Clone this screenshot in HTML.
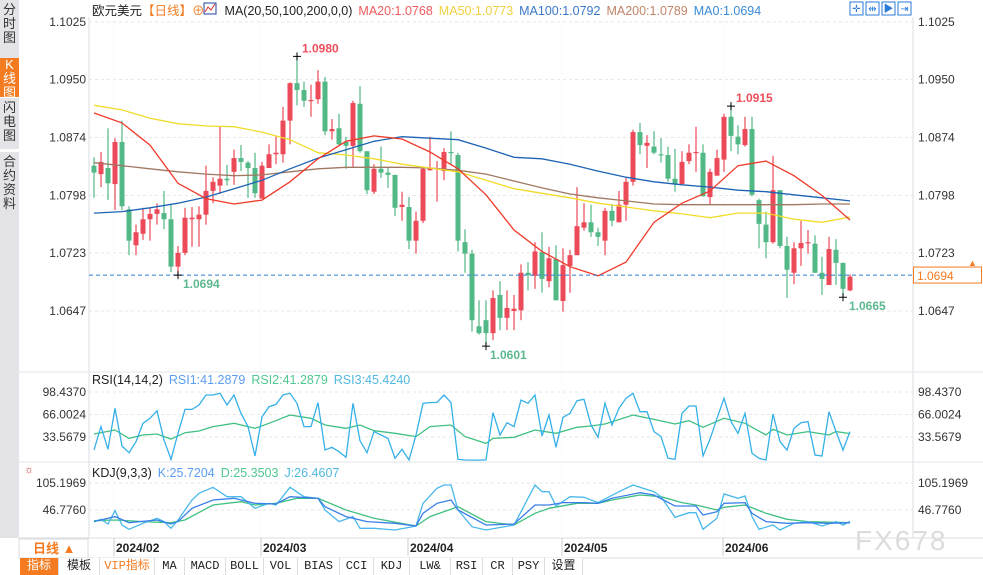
<!DOCTYPE html>
<html><head><meta charset="utf-8">
<style>
html,body{margin:0;padding:0;background:#fff;width:983px;height:575px;overflow:hidden;font-family:"Liberation Sans","Noto Sans CJK SC",sans-serif}
#wrap{position:relative;width:983px;height:575px}
.side{position:absolute;left:0;width:19px;background:#e4e4e8;color:#333;font-size:13px;line-height:14px;text-align:center;border-bottom:1px solid #fff}
.tabs{position:absolute;left:20px;top:558px;height:17px;display:flex;font-family:"Liberation Mono","Noto Sans CJK SC",monospace;font-size:12px}
.tabs div{border-right:1px solid #ddd;line-height:17px;color:#222;background:#fff;text-align:center;box-sizing:border-box;white-space:nowrap}
</style></head><body>
<div id="wrap">
<div class="side" style="top:0;height:55px;padding-top:3px">分<br>时<br>图</div>
<div class="side" style="top:58px;height:39px;background:#f47b20;color:#fff">K<br>线<br>图</div>
<div class="side" style="top:98px;height:48px;padding-top:3px">闪<br>电<br>图</div>
<div class="side" style="top:152px;height:60px;padding-top:3px">合<br>约<br>资<br>料</div>
<div class="side" style="top:215px;height:323px;border:none"></div>
<svg id="chart" width="983" height="575" style="position:absolute;left:0;top:0" xmlns="http://www.w3.org/2000/svg"></svg>
<div class="tabs">
<div style="width:39px;background:#f47b20;color:#fff">指标</div>
<div style="width:41px">模板</div>
<div style="width:55px;color:#f47b20">VIP指标</div>
<div style="width:30px">MA</div>
<div style="width:41px">MACD</div>
<div style="width:38px">BOLL</div>
<div style="width:34px">VOL</div>
<div style="width:42px">BIAS</div>
<div style="width:34px">CCI</div>
<div style="width:36px">KDJ</div>
<div style="width:41px">LW&amp;</div>
<div style="width:32px">RSI</div>
<div style="width:30px">CR</div>
<div style="width:32px">PSY</div>
<div style="width:38px">设置</div>
</div>
</div>
<script>
// price data, values = price x 10000
const openPips=[10837,10826,10834,10813,10868,10780,10733,10748,10767,10774,10775,10767,10705,10723,10767,10767,10773,10804,10811,10820,10829,10847,10841,10834,10794,10834,10852,10852,10896,10945,10936,10922,10924,10947,10882,10886,10868,10863,10918,10856,10803,10833,10828,10825,10783,10783,10739,10765,10831,10833,10830,10855,10851,10737,10722,10627,10635,10618,10668,10638,10647,10648,10697,10693,10724,10686,10715,10660,10706,10720,10756,10763,10750,10739,10778,10763,10786,10816,10881,10863,10862,10852,10851,10820,10813,10843,10854,10854,10796,10824,10845,10901,10875,10864,10885,10792,10760,10737,10805,10732,10697,10729,10736,10735,10697,10681,10727,10710,10674];
const highPips=[10848,10855,10886,10873,10896,10784,10760,10782,10782,10788,10804,10786,10732,10782,10783,10784,10837,10822,10888,10838,10858,10864,10843,10854,10842,10865,10875,10914,10946,10980,10947,10943,10962,10953,10898,10905,10875,10922,10941,10856,10839,10862,10834,10825,10803,10796,10777,10834,10875,10843,10860,10882,10854,10754,10727,10661,10661,10674,10686,10674,10668,10708,10711,10737,10750,10731,10733,10729,10727,10809,10788,10786,10756,10782,10787,10804,10822,10884,10893,10877,10882,10873,10862,10859,10856,10865,10888,10865,10833,10858,10905,10915,10890,10901,10901,10794,10777,10850,10805,10744,10737,10765,10753,10746,10718,10744,10741,10710,10695];
const lowPips=[10795,10809,10792,10779,10779,10720,10720,10740,10739,10760,10754,10698,10694,10720,10731,10731,10760,10788,10800,10811,10812,10830,10795,10795,10794,10834,10839,10841,10865,10916,10914,10901,10918,10877,10871,10864,10833,10834,10854,10800,10800,10821,10808,10771,10765,10728,10722,10762,10831,10790,10818,10838,10725,10697,10620,10616,10601,10609,10622,10622,10622,10635,10674,10676,10671,10678,10661,10646,10671,10720,10752,10744,10732,10720,10758,10763,10765,10811,10852,10834,10852,10841,10816,10803,10812,10839,10829,10797,10786,10824,10829,10856,10852,10862,10797,10729,10716,10735,10729,10664,10682,10706,10722,10697,10668,10681,10681,10665,10673];
const closePips=[10828,10842,10814,10868,10784,10739,10750,10767,10774,10780,10767,10705,10723,10769,10769,10773,10804,10816,10820,10818,10847,10842,10834,10801,10837,10852,10854,10896,10945,10936,10922,10923,10947,10882,10885,10865,10863,10919,10856,10805,10833,10828,10825,10782,10786,10739,10765,10833,10834,10834,10855,10854,10739,10722,10635,10618,10618,10664,10638,10651,10650,10697,10694,10725,10689,10716,10661,10707,10720,10758,10763,10750,10744,10778,10765,10786,10816,10881,10864,10867,10854,10851,10820,10813,10842,10854,10855,10797,10829,10847,10901,10876,10865,10885,10799,10761,10737,10805,10732,10701,10729,10736,10737,10697,10689,10728,10710,10676,10692];
// moving averages sampled every 4th bar
const maIdx=[0,4,8,12,16,20,24,28,32,36,40,44,48,52,56,60,64,68,72,76,80,84,88,92,96,100,104,108];
const ma20=[10906,10893,10864,10814,10794,10787,10792,10816,10846,10869,10876,10872,10855,10833,10799,10753,10725,10705,10693,10711,10763,10788,10804,10837,10843,10824,10798,10766];
const ma50=[10916,10910,10899,10892,10889,10888,10881,10871,10854,10851,10846,10839,10834,10829,10818,10807,10801,10795,10788,10783,10778,10774,10769,10775,10775,10767,10763,10770];
const ma100=[10775,10777,10782,10788,10796,10807,10818,10833,10847,10858,10869,10875,10873,10871,10860,10848,10846,10839,10830,10822,10816,10812,10809,10805,10803,10799,10795,10791];
const ma200=[10841,10837,10833,10829,10826,10824,10825,10829,10833,10835,10835,10835,10834,10831,10826,10817,10808,10800,10795,10791,10787,10786,10786,10786,10786,10786,10787,10787];
const rsi1=[14.8,48.5,15.8,74.9,20.6,11.0,26.8,53.3,60.5,71.5,29.2,1.4,38.9,73.4,73.4,79.7,94.1,94.1,96.5,79.7,94.1,67.7,48.5,6.2,62.9,77.3,80.6,94.1,96.5,82.1,48.5,48.5,83.1,14.8,18.7,12.4,4.3,82.1,28.3,11.0,41.3,36.5,31.6,2.8,15.8,0.4,36.5,82.1,83.1,83.5,94.1,83.1,1.4,0.4,0.2,0.2,0.5,68.6,36.5,54.2,48.5,86.9,82.1,94.1,35.0,65.3,18.7,61.9,67.7,85.9,87.9,50.9,33.1,82.1,50.9,74.9,89.3,96.5,70.1,70.1,41.3,34.1,2.8,1.4,67.7,78.3,78.3,6.2,30.2,60.5,89.3,55.7,38.9,67.7,10.0,2.8,0.4,66.7,26.8,14.8,46.1,54.2,55.7,7.6,6.2,70.1,41.3,14.8,41.3];
const rsi3Idx=[0,3,5,7,9,11,13,15,17,20,23,25,28,31,33,36,38,40,43,46,48,51,53,56,57,60,63,66,69,71,73,77,80,83,85,87,90,93,96,97,99,102,105,106,108];
const rsi3=[37.9,43.6,31.6,36.5,37.9,30.7,39.8,42.2,48.5,53.3,46.1,53.3,65.3,60.5,50.9,46.1,50.9,42.7,38.9,34.1,48.5,50.9,34.1,24.4,31.6,33.1,43.6,38.9,47.5,49.4,52.3,65.3,59.0,52.3,57.1,47.5,60.5,53.3,36.5,44.6,36.5,41.3,36.5,41.3,38.5];
const kIdx=[0,3,5,9,11,12,14,17,20,23,26,28,32,33,36,39,43,46,47,49,51,52,56,60,63,65,67,70,72,74,78,80,83,86,87,89,90,93,94,96,99,102,105,108];
const kVals=[21.6,32.4,19.4,25.2,16.5,21.6,50.4,68.4,72.0,61.2,59.8,75.6,72.0,54.0,32.4,21.6,18.0,12.2,39.6,61.2,68.4,46.8,14.4,16.5,57.6,57.6,62.7,62.7,61.2,72.0,84.3,79.3,55.4,55.4,36.0,43.2,61.2,62.7,39.6,21.6,18.0,19.4,18.0,19.4];
const dIdx=[0,3,7,11,13,17,21,23,26,29,32,36,40,46,48,52,56,60,63,65,69,72,74,78,81,84,86,89,90,93,96,99,102,108];
const dVals=[23.7,25.2,21.6,19.4,25.2,57.6,64.8,57.6,61.2,72.0,72.0,46.8,28.8,12.2,32.4,54.0,21.6,14.4,39.6,50.4,61.2,61.2,68.4,79.3,75.6,62.7,57.6,46.8,52.6,57.6,39.6,26.6,21.6,19.4];
const jIdx=[0,1,2,3,4,5,7,9,10,11,12,14,15,17,19,21,23,25,26,28,30,32,33,35,37,38,40,43,46,47,49,50,51,52,54,56,60,63,64,65,66,68,70,72,75,77,80,81,83,85,86,87,89,90,92,93,94,95,97,98,100,102,104,106,107,108];
const jVals=[21.6,26.6,16.5,45.4,14.4,5.0,18.0,28.8,21.6,7.1,25.2,68.4,82.9,95.8,75.6,75.6,50.4,61.2,57.6,95.8,75.6,72.0,46.8,21.6,32.4,7.1,7.1,3.5,12.2,61.2,93.7,100.9,100.9,46.8,10.7,3.5,14.4,100.9,86.4,86.4,55.4,75.6,74.2,62.7,86.4,100.9,86.4,75.6,30.9,41.0,41.0,5.0,28.8,81.4,72.0,77.1,32.4,5.0,14.4,3.5,18.0,21.6,12.2,21.6,14.4,22.0];
const priceTicks=["1.1025","1.0950","1.0874","1.0798","1.0723","1.0647"];
const rsiTicks=["98.4370","66.0024","33.5679"];
const kdjTicks=["105.1969","46.7760"];
const monthLabels=["2024/02","2024/03","2024/04","2024/05","2024/06"];
const monthStartIdx=[3,24,45,67,90];
const lastPrice=1.0694;

const NS="http://www.w3.org/2000/svg";
const svg=document.getElementById('chart');
function mk(tag,attrs,parent){const e=document.createElementNS(NS,tag);for(const k in attrs)e.setAttribute(k,attrs[k]);(parent||svg).appendChild(e);return e;}
function txt(s,x,y,attrs,parent){const e=mk('text',Object.assign({x:x,y:y,'font-size':12,'font-family':'"Liberation Sans","Noto Sans CJK SC",sans-serif',fill:'#333'},attrs||{}),parent);e.textContent=s;return e;}
const X0=94,DX=7;
const xOf=i=>X0+DX*i;
const yP=p=>311-(p-1.0647)*7646;
const yPip=v=>yP(v/10000);
const yR=v=>392+(98.437-v)/1.4416;
const yK=v=>510-(v-46.776)/2.1637;

const defs=mk('defs',{});
const c1=mk('clipPath',{id:'cMain'},defs);mk('rect',{x:89,y:18,width:824,height:354},c1);
const c2=mk('clipPath',{id:'cRsi'},defs);mk('rect',{x:89,y:373,width:824,height:89},c2);
const c3=mk('clipPath',{id:'cKdj'},defs);mk('rect',{x:89,y:463,width:824,height:75},c3);

let e;
e=mk('line',{x1:89,y1:17,x2:89,y2:538,stroke:'#d8dde4'});
e=mk('line',{x1:913,y1:17,x2:913,y2:538,stroke:'#d8dde4'});
[372,462].forEach(y=>{e=mk('line',{x1:19,y1:y,x2:983,y2:y,stroke:'#e2e6ea'});});
e=mk('line',{x1:19,y1:538,x2:983,y2:538,stroke:'#d8dde4'});
e=mk('line',{x1:19,y1:558,x2:983,y2:558,stroke:'#d8dde4'});

priceTicks.forEach(t=>{const y=yP(parseFloat(t));
 e=mk('line',{x1:89,y1:y,x2:913,y2:y,stroke:'#e6e6e6','stroke-dasharray':'3,3'});
 e=txt(t,86,y+4,{'text-anchor':'end'});
 e=txt(t,918,y+4,{});
});
rsiTicks.forEach(t=>{const y=yR(parseFloat(t));
 e=mk('line',{x1:89,y1:y,x2:913,y2:y,stroke:'#e6e6e6','stroke-dasharray':'3,3'});
 e=txt(t,86,y+4,{'text-anchor':'end'});
 e=txt(t,918,y+4,{});
});
kdjTicks.forEach(t=>{const y=yK(parseFloat(t));
 e=mk('line',{x1:89,y1:y,x2:913,y2:y,stroke:'#e6e6e6','stroke-dasharray':'3,3'});
 e=txt(t,86,y+4,{'text-anchor':'end'});
 e=txt(t,918,y+4,{});
});
monthLabels.forEach((m,k)=>{const x=xOf(monthStartIdx[k])-1;
 e=mk('line',{x1:x,y1:17,x2:x,y2:538,stroke:'#eceef0','stroke-dasharray':'1,3'});
 e=mk('line',{x1:x,y1:538,x2:x,y2:556,stroke:'#ccc'});
 e=txt(m,x+2,552,{'font-weight':'bold','fill':'#222'});
});

e=txt('FX678',855,550,{'font-size':28,fill:'#dcdcdc','letter-spacing':'2'});

const gMain=mk('g',{'clip-path':'url(#cMain)'});

openPips.forEach((o,i)=>{const c=closePips[i],h=highPips[i],l=lowPips[i];const up=c>=o;const col=up?'#ec4a58':'#52b886';const x=xOf(i);
 const w=mk('line',{x1:x,y1:yPip(h),x2:x,y2:yPip(l),stroke:col,'stroke-width':1.2},gMain);
 
 
 const yt=yPip(Math.max(o,c)),yb=yPip(Math.min(o,c));
 const b=mk('rect',{x:x-2.5,y:yt,width:5,height:Math.max(1.2,yb-yt),fill:col},gMain);
 
 
});
function poly(idx,vals,yf,col,g,name){const pts=idx.map((i,k)=>xOf(i)+','+yf(vals[k]).toFixed(1)).join(' ');
 const p=mk('polyline',{points:pts,fill:'none',stroke:col,'stroke-width':1.3},g);return p;}
poly(maIdx,ma200,yPip,'#a07862',gMain,'ma200-line');
poly(maIdx,ma50,yPip,'#f2dc2a',gMain,'ma50-line');
poly(maIdx,ma100,yPip,'#1e64b4',gMain,'ma100-line');
poly(maIdx,ma20,yPip,'#f03a2a',gMain,'ma20-line');
e=mk('line',{x1:89,y1:yP(lastPrice),x2:913,y2:yP(lastPrice),stroke:'#2a7ad8','stroke-dasharray':'4,3'});
e=mk('rect',{x:913.5,y:yP(lastPrice)-8,width:68,height:16,fill:'#fff',stroke:'#f47b20'});
e=txt(lastPrice.toFixed(4),917,yP(lastPrice)+5,{fill:'#f47b20'});
e=txt('▲',968,yP(lastPrice)-9,{fill:'#f47b20','font-size':9});
function extreme(i,pips,isHigh,dx){const x=xOf(i),y=yPip(pips);
 e=mk('path',{d:`M${x-4},${y}H${x+4}M${x},${y-4}V${y+4}`,stroke:'#000','stroke-width':1});
 e=txt((pips/10000).toFixed(4),x+dx,isHigh?y-4:y+13,{fill:isHigh?'#ee4d5a':'#5cb88e','font-weight':'bold'});}
extreme(29,highPips[29],true,5);
extreme(12,lowPips[12],false,5);
extreme(91,highPips[91],true,5);
extreme(56,lowPips[56],false,4);
extreme(107,lowPips[107],false,6);

const gR=mk('g',{'clip-path':'url(#cRsi)'});
poly(rsi3Idx,rsi3,yR,'#40c080',gR,'rsi3-line');
poly(rsi1.map((v,i)=>i),rsi1,yR,'#36b0e8',gR,'rsi1-line');
const gK=mk('g',{'clip-path':'url(#cKdj)'});
poly(dIdx,dVals,yK,'#40c080',gK,'kdj-d-line');
poly(jIdx,jVals,yK,'#4ab8ea',gK,'kdj-j-line');
poly(kIdx,kVals,yK,'#3a7fe8',gK,'kdj-k-line');

function hdr(parts,y,name){const t=mk('text',{x:92,y:y,'font-size':12.5,'font-family':'"Liberation Sans","Noto Sans CJK SC",sans-serif'});
 parts.forEach(p=>{const s=mk('tspan',{fill:p[1],dx:p[2]||0},t);s.textContent=p[0];});
 }
hdr([['欧元美元','#222'],['【日线】','#f47b20'],['⊕','#f47b20'],['MA(20,50,100,200,0,0)','#222',20],['MA20:1.0768','#f05a5a',6],['MA50:1.0773','#f0d040',6],['MA100:1.0792','#3a78c8',6],['MA200:1.0789','#c08468',6],['MA0:1.0694','#3a8ad8',6]],15,'main-legend');
e=mk('rect',{x:204,y:3,width:12,height:11,fill:'#fff',stroke:'#2040a0'});
e=mk('path',{d:'M205,12 L208,7 L211,10 L215,4',stroke:'#e03030',fill:'none'});
hdr([['RSI(14,14,2)','#222'],['RSI1:41.2879','#5a9ef0',6],['RSI2:41.2879','#50c890',6],['RSI3:45.4240','#50b8e0',6]],384,'rsi-legend');
hdr([['KDJ(9,3,3)','#222'],['K:25.7204','#5a9ef0',6],['D:25.3503','#50c890',6],['J:26.4607','#50b8e0',6]],477,'kdj-legend');
e=txt('☼',24,473,{fill:'#d04040','font-size':11});
['✛','⇹','▶','⇥'].forEach((g,k)=>{const x=850+k*16;
 e=mk('rect',{x:x,y:2,width:13,height:13,fill:'#fff',stroke:'#2a7ad8'});
 e=txt(g,x+6.5,12,{fill:'#2a7ad8','font-size':10,'text-anchor':'middle'});});
e=mk('rect',{x:19,y:539,width:69,height:19,fill:'#fff',stroke:'#ddd'});
e=txt('日线 ▲',33,553,{fill:'#f47b20','font-weight':'bold','font-size':13});
</script>
</body></html>
